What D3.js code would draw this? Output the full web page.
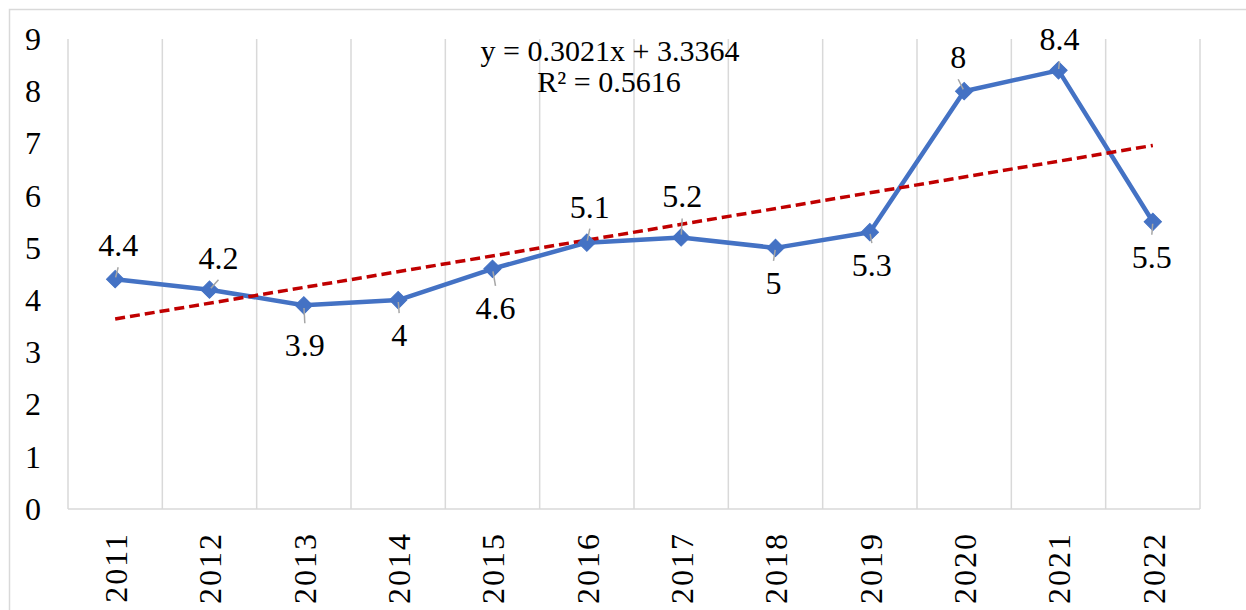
<!DOCTYPE html>
<html>
<head>
<meta charset="utf-8">
<script src="https://cdn.jsdelivr.net/npm/d3@7"></script>
<style>
  body { margin: 0; background: #fff; }
  svg { display: block; }
  svg text { font-family: 'Liberation Serif', 'DejaVu Serif', 'Times New Roman', serif; }
</style>
</head>
<body>
<svg id="chart"></svg>
<script>
const width = 1246;
const height = 610;
const serif = "'Liberation Serif', 'DejaVu Serif', 'Times New Roman', serif";

// data
const years = ['2011', '2012', '2013', '2014', '2015', '2016', '2017', '2018', '2019', '2020', '2021', '2022'];
const values = [4.4, 4.2, 3.9, 4, 4.6, 5.1, 5.2, 5, 5.3, 8, 8.4, 5.5];
const yTicks = [0, 1, 2, 3, 4, 5, 6, 7, 8, 9];
const trendSlope = 0.3021;
const trendIntercept = 3.3364;
const trendR2 = 0.5616;

// label nudges (dx, dy of baseline from point), hand-placed like the original
const labelNudge = [
  [3, -23], [9, -21], [1, 51], [1, 46], [3, 50], [3, -25],
  [1, -30], [-2, 46], [2, 44], [-6, -23], [1, -20], [-1, 46]
];

const margin = { left: 68, right: 46, top: 39, bottom: 101 };

const svg = d3.select('#chart')
  .attr('width', width)
  .attr('height', height)
  .attr('font-family', serif);

// outer chart border (cut off at right and bottom in the original)
svg.append('rect')
  .attr('x', 9.5)
  .attr('y', 9.5)
  .attr('width', width + 20)
  .attr('height', height + 20)
  .attr('fill', 'none')
  .attr('stroke', '#d9d9d9')
  .attr('stroke-width', 1.5);

const x = d3.scaleBand()
  .domain(years)
  .range([margin.left, width - margin.right]);

const y = d3.scaleLinear()
  .domain([0, 9])
  .range([height - margin.bottom, margin.top]);

// vertical gridlines at category boundaries
const bounds = years.map((d) => x(d)).concat([x.range()[1]]);
svg.append('g')
  .selectAll('line')
  .data(bounds)
  .join('line')
  .attr('x1', (d) => d)
  .attr('x2', (d) => d)
  .attr('y1', y(9))
  .attr('y2', y(0))
  .attr('stroke', '#d9d9d9')
  .attr('stroke-width', 1.5);

// category axis line
svg.append('line')
  .attr('x1', x.range()[0])
  .attr('x2', x.range()[1])
  .attr('y1', y(0))
  .attr('y2', y(0))
  .attr('stroke', '#d9d9d9')
  .attr('stroke-width', 1.5);

// y tick labels
svg.append('g')
  .selectAll('text')
  .data(yTicks)
  .join('text')
  .attr('x', 33)
  .attr('y', (d) => y(d))
  .attr('dy', '0.34em')
  .attr('text-anchor', 'middle')
  .attr('font-family', serif)
  .attr('font-size', 32)
  .attr('fill', '#000')
  .text((d) => d);

// x labels, rotated
svg.append('g')
  .selectAll('text')
  .data(years)
  .join('text')
  .attr('transform', (d) => `translate(${x(d) + x.bandwidth() / 2 + 1},${y(0) + 23}) rotate(-90)`)
  .attr('dy', '0.34em')
  .attr('text-anchor', 'end')
  .attr('font-family', serif)
  .attr('font-size', 32)
  .attr('letter-spacing', 2)
  .attr('fill', '#000')
  .text((d) => d);

const cx = (i) => x(years[i]) + x.bandwidth() / 2;

// data line
const line = d3.line()
  .x((d, i) => cx(i))
  .y((d) => y(d));

svg.append('path')
  .datum(values)
  .attr('d', line)
  .attr('fill', 'none')
  .attr('stroke', '#4472c4')
  .attr('stroke-width', 4.5)
  .attr('stroke-linejoin', 'round');

// linear trendline
const trend = [1, years.length];
svg.append('path')
  .datum(trend)
  .attr('d', d3.line()
    .x((d) => cx(d - 1))
    .y((d) => y(trendSlope * d + trendIntercept)))
  .attr('fill', 'none')
  .attr('stroke', '#c00000')
  .attr('stroke-width', 3.5)
  .attr('stroke-dasharray', '10,5');

// diamond markers
svg.append('g')
  .selectAll('path')
  .data(values)
  .join('path')
  .attr('d', d3.symbol(d3.symbolSquare, 150))
  .attr('transform', (d, i) => `translate(${cx(i)},${y(d)}) rotate(45)`)
  .attr('fill', '#4472c4')
  .attr('stroke', '#4472c4')
  .attr('stroke-width', 1);

// leader lines from markers to moved labels
const leaders = values.map((d, i) => {
  const px = cx(i);
  const py = y(d);
  const [dx, dy] = labelNudge[i];
  const above = dy < 0;
  const ey = above ? py + dy + 11 : py + dy - 33;
  const ex = px + dx;
  const len = Math.abs(ey - py);
  return { px, py, ex, ey, len };
}).filter((l) => l.len > 8);

svg.append('g')
  .selectAll('line')
  .data(leaders)
  .join('line')
  .attr('x1', (d) => d.px + (d.ex - d.px) * 0.15)
  .attr('y1', (d) => d.py + (d.ey - d.py) * 0.15)
  .attr('x2', (d) => d.ex)
  .attr('y2', (d) => d.ey)
  .attr('stroke', '#a6a6a6')
  .attr('stroke-width', 1.5);

// data labels
svg.append('g')
  .selectAll('text')
  .data(values)
  .join('text')
  .attr('x', (d, i) => cx(i) + labelNudge[i][0])
  .attr('y', (d, i) => y(d) + labelNudge[i][1])
  .attr('text-anchor', 'middle')
  .attr('font-family', serif)
  .attr('font-size', 32)
  .attr('fill', '#000')
  .text((d) => d);

// trendline equation
svg.append('text')
  .attr('x', 610)
  .attr('y', 61)
  .attr('text-anchor', 'middle')
  .attr('font-family', serif)
  .attr('font-size', 30)
  .attr('fill', '#000')
  .text(`y = ${trendSlope}x + ${trendIntercept}`);

svg.append('text')
  .attr('x', 609)
  .attr('y', 92)
  .attr('text-anchor', 'middle')
  .attr('font-family', serif)
  .attr('font-size', 30)
  .attr('fill', '#000')
  .text(`R² = ${trendR2}`);
</script>
</body>
</html>
